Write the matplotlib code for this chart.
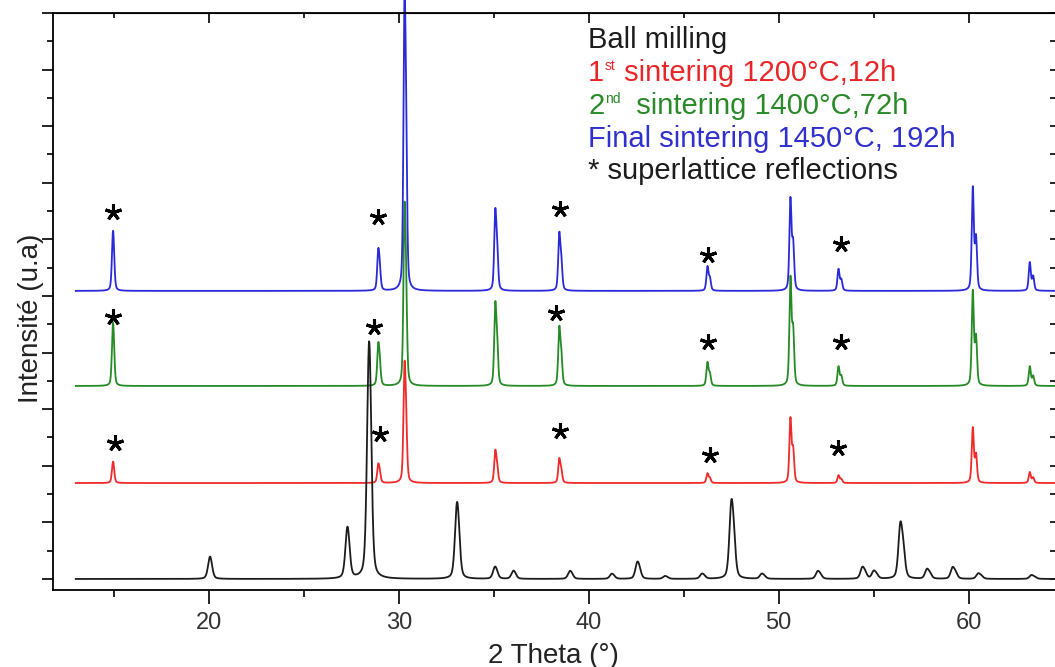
import numpy as np
import matplotlib
matplotlib.use('Agg')
import matplotlib.pyplot as plt
from matplotlib.ticker import MultipleLocator

plt.rcParams['font.family'] = ['Liberation Sans', 'DejaVu Sans']

# peak positions (2theta, deg) and heights above each baseline (a.u.)
bm_pos = [20.05, 27.28, 28.42, 33.05, 35.05, 36.02, 39.0, 41.2, 42.55, 44.0, 45.95,
          47.5, 49.1, 52.05, 54.4, 55.0, 56.4, 57.8, 59.15, 60.5, 63.3]
bm_h = [0.78, 1.77, 8.2, 2.65, 0.42, 0.28, 0.28, 0.18, 0.6, 0.1, 0.18,
        2.76, 0.18, 0.28, 0.42, 0.28, 2.0, 0.35, 0.42, 0.2, 0.14]

s_pos = [14.95, 28.92, 30.3, 35.08, 38.45, 46.25, 50.62, 53.15, 60.22, 63.22]
s1_h = [0.74, 0.68, 4.25, 1.17, 0.88, 0.35, 2.33, 0.28, 1.98, 0.39]
s2_h = [2.2, 1.52, 6.4, 2.97, 2.12, 0.85, 3.9, 0.7, 3.4, 0.7]
s3_h = [2.08, 1.48, 10.5, 2.9, 2.08, 0.88, 3.32, 0.78, 3.7, 1.02]

# vertical offsets of the stacked patterns
offsets = [0.0, 3.39, 6.82, 10.18]

# superlattice star marks (x, y)
star_x = [14.95, 28.9, 38.5, 46.3, 53.3,
          14.95, 28.7, 38.3, 46.3, 53.3,
          15.05, 29.0, 38.5, 46.4, 53.15]
star_y = [12.97, 12.8, 13.07, 11.45, 11.84,
          9.26, 8.9, 9.4, 8.37, 8.37,
          4.8, 5.12, 5.23, 4.38, 4.63]

# legend lines: (lead, superscript, rest)
legend_lines = [("Ball milling", "", ""),
                ("1", "st", " sintering 1200°C,12h"),
                ("2", "nd", "  sintering 1400°C,72h"),
                ("Final sintering 1450°C, 192h", "", ""),
                ("* superlattice reflections", "", "")]

c_black, c_red, c_green, c_blue = '#1c1c1c', '#f02a2a', '#268a26', '#2a2ad8'
txt_colors = ['#1c1c1c', '#e8262a', '#2a8a2a', '#3030cc', '#1c1c1c']

tt = np.arange(13.0, 64.9, 0.005)


def shape(u, fwhm):
    g = np.exp(-4 * np.log(2) * (u / fwhm) ** 2)
    l = 1.0 / (1 + 4 * (u / fwhm) ** 2)
    return 0.6 * g + 0.4 * l


def pattern(pos, hts, fwhm, base):
    y = np.full_like(tt, base)
    for p, h in zip(pos, hts):
        d = 0.0028 * p  # K-alpha2 shoulder
        norm = 1 + 0.5 * shape(d, fwhm)
        y += h * (shape(tt - p, fwhm) + 0.5 * shape(tt - p - d, fwhm)) / norm
    return y


fig = plt.figure(figsize=(10.55, 6.67), dpi=100)
ax = fig.add_axes([53 / 1055, 77 / 667, 1003 / 1055, 577 / 667])

ax.plot(tt, pattern(s_pos, s2_h, 0.13, offsets[2]), color=c_green, lw=1.3)
ax.plot(tt, pattern(s_pos, s1_h, 0.13, offsets[1]), color=c_red, lw=1.3)
ax.plot(tt, pattern(bm_pos, bm_h, 0.24, offsets[0]), color=c_black, lw=1.3)
ax.plot(tt, pattern(s_pos, s3_h, 0.13, offsets[3]), color=c_blue, lw=1.3, clip_on=False)

ax.plot(star_x, star_y, ls='none', marker=(5, 2, 0), ms=12, mew=2.2, color='k')

ybase = [48, 81, 114, 147, 179]
for (lead, sup, rest), c, yb in zip(legend_lines, txt_colors, ybase):
    t = ax.text((588 - 53) / 1003, (590 - yb) / 577, lead, color=c, fontsize=21,
                transform=ax.transAxes, va='baseline', ha='left')
    if sup:
        s = ax.annotate(sup, xy=(1, 1), xycoords=t, xytext=(0.5, 0),
                        textcoords='offset points', va='top', ha='left',
                        fontsize=10, color=c)
        ax.annotate(rest, xy=(1, 0), xycoords=(s, t), va='bottom', ha='left',
                    fontsize=21, color=c)

ax.set_xlim(11.8, 64.6)
ax.set_ylim(-0.39, 20.0)
ax.xaxis.set_major_locator(MultipleLocator(10))
ax.xaxis.set_minor_locator(MultipleLocator(5))
ax.yaxis.set_major_locator(MultipleLocator(2))
ax.yaxis.set_minor_locator(MultipleLocator(1))
ax.tick_params(axis='x', which='major', direction='out', length=10, width=1.2,
               labelsize=17, labelcolor='#333333', pad=6)
ax.tick_params(axis='x', which='minor', direction='out', length=5, width=1.2)
ax.tick_params(axis='y', which='major', direction='out', length=8, width=1.2, labelleft=False)
ax.tick_params(axis='y', which='minor', direction='out', length=4, width=1.2)

top = ax.secondary_xaxis('top')
top.xaxis.set_major_locator(MultipleLocator(10))
top.xaxis.set_minor_locator(MultipleLocator(5))
top.tick_params(which='major', direction='in', length=7, width=1.2, labeltop=False)
top.tick_params(which='minor', direction='in', length=3.5, width=1.2)

right = ax.secondary_yaxis('right')
right.yaxis.set_major_locator(MultipleLocator(1))
right.tick_params(direction='in', length=4, width=1.2, labelright=False)

for sp in ax.spines.values():
    sp.set_linewidth(1.3)

ax.set_xlabel('2 Theta (°)', fontsize=20, color='#222222')
ax.xaxis.set_label_coords(0.4985, -0.092)
ax.set_ylabel('Intensité (u.a)', fontsize=20, color='#222222')
ax.yaxis.set_label_coords(-0.009, 0.471)

fig.savefig('out.png', dpi=100)
